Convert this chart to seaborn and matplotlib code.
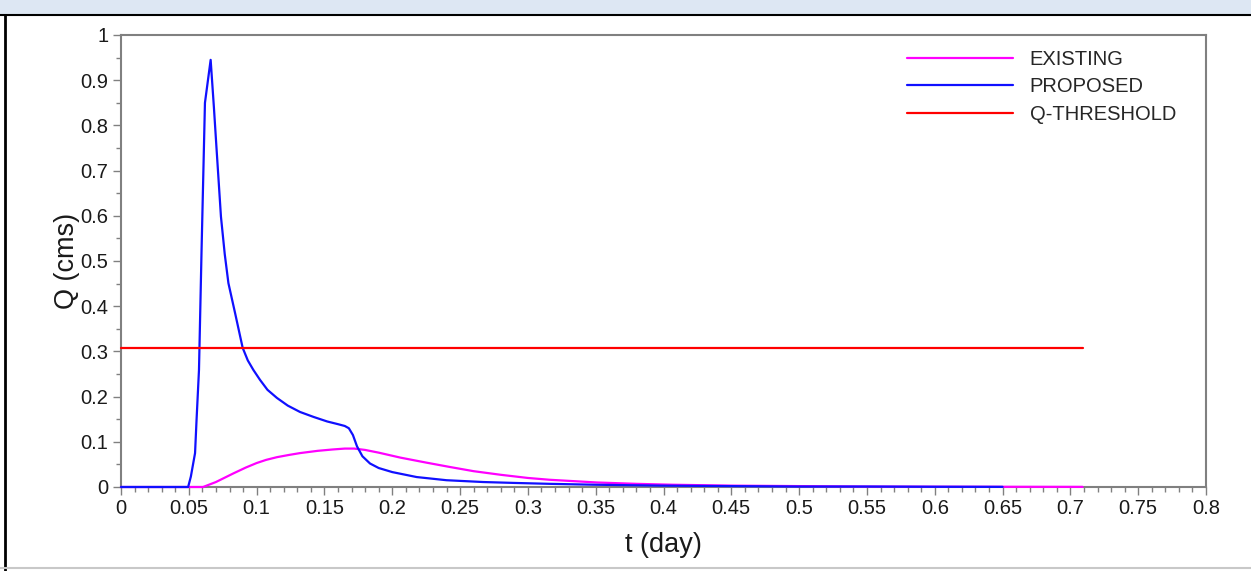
import matplotlib
matplotlib.use("Agg")
import matplotlib.pyplot as plt
import matplotlib.ticker as mticker
from matplotlib.lines import Line2D
from matplotlib.patches import Rectangle
import pandas as pd
import seaborn as sns

# hydrograph values
t_existing = [0, 0.0605, 0.07, 0.0828, 0.092, 0.1, 0.107, 0.115, 0.124, 0.132, 0.145, 0.156, 0.165, 0.172,
              0.18, 0.19, 0.206, 0.225, 0.243, 0.26, 0.28, 0.3, 0.316, 0.351, 0.38, 0.407, 0.45, 0.5,
              0.55, 0.6, 0.65, 0.709]
q_existing = [0, 0, 0.011, 0.030, 0.043, 0.053, 0.060, 0.066, 0.071, 0.075, 0.080, 0.083, 0.085, 0.085,
              0.082, 0.076, 0.065, 0.054, 0.044, 0.035, 0.027, 0.020, 0.016, 0.010, 0.007, 0.005, 0.003, 0.002,
              0.001, 0.0007, 0.0005, 0.0003]

t_proposed = [0, 0.0495, 0.0515, 0.0546, 0.0557, 0.0575, 0.0594, 0.0619, 0.0661, 0.0685, 0.0705, 0.0737,
              0.0765, 0.0792, 0.0841, 0.0897, 0.0935, 0.0976, 0.1025, 0.108, 0.115, 0.123, 0.132, 0.142,
              0.152, 0.16, 0.165, 0.168, 0.171, 0.174, 0.178, 0.1836, 0.19,
              0.20, 0.218, 0.24, 0.267, 0.29, 0.316, 0.35, 0.40, 0.45, 0.50, 0.55, 0.60, 0.65]
q_proposed = [0, 0, 0.023, 0.075, 0.148, 0.259, 0.524, 0.85, 0.945, 0.84, 0.746, 0.598,
              0.515, 0.451, 0.385, 0.308, 0.28, 0.259, 0.237, 0.215, 0.197, 0.18, 0.166, 0.155,
              0.145, 0.139, 0.135, 0.130, 0.115, 0.090, 0.068, 0.052, 0.042,
              0.033, 0.022, 0.015, 0.011, 0.009, 0.007, 0.005, 0.003, 0.002, 0.001, 0.001, 0.0005, 0.0003]

t_threshold = [0, 0.709]
q_threshold = [0.307, 0.307]

x_ticks = [0, 0.05, 0.1, 0.15, 0.2, 0.25, 0.3, 0.35, 0.4, 0.45, 0.5, 0.55, 0.6, 0.65, 0.7, 0.75, 0.8]
y_ticks = [0, 0.1, 0.2, 0.3, 0.4, 0.5, 0.6, 0.7, 0.8, 0.9, 1]

sns.set_style("white")
plt.rcParams['font.family'] = ['Liberation Sans', 'DejaVu Sans']

W, H = 1251, 571
fig = plt.figure(figsize=(W / 100, H / 100), dpi=100)
ax = fig.add_axes([121 / W, 1 - 487 / H, (1206 - 121) / W, (487 - 35) / H])

df_e = pd.DataFrame({"t": t_existing, "Q": q_existing})
df_p = pd.DataFrame({"t": t_proposed, "Q": q_proposed})
df_q = pd.DataFrame({"t": t_threshold, "Q": q_threshold})

sns.lineplot(data=df_e, x="t", y="Q", color="#ff00ff", lw=1.6, label="EXISTING", ax=ax, sort=False)
sns.lineplot(data=df_p, x="t", y="Q", color="#1010ff", lw=1.6, label="PROPOSED", ax=ax, sort=False)
sns.lineplot(data=df_q, x="t", y="Q", color="#ff0000", lw=1.6, label="Q-THRESHOLD", ax=ax, sort=False)
for ln in ax.lines:
    ln.set_clip_on(False)
    ln.set_zorder(4)

ax.set_xlim(0, 0.8)
ax.set_ylim(0, 1)
ax.set_xticks(x_ticks)
ax.set_yticks(y_ticks)
ax.xaxis.set_major_formatter(mticker.FormatStrFormatter('%g'))
ax.yaxis.set_major_formatter(mticker.FormatStrFormatter('%g'))
ax.xaxis.set_minor_locator(mticker.MultipleLocator(0.01))
ax.yaxis.set_minor_locator(mticker.MultipleLocator(0.05))
ax.tick_params(axis='both', which='major', direction='out', length=6, width=1,
               color='#808080', labelsize=14.5, labelcolor='#1a1a1a', pad=3)
ax.tick_params(axis='both', which='minor', direction='out', length=3.5, width=1, color='#808080')
ax.tick_params(bottom=True, left=True, which='both')
for s in ax.spines.values():
    s.set_color('#808080')
    s.set_linewidth(1.5)

ax.set_xlabel("t (day)", fontsize=19.5, color='#1a1a1a', labelpad=10)
ax.set_ylabel("Q (cms)", fontsize=19.5, color='#1a1a1a', labelpad=0.5)

ax.legend(loc='upper left', frameon=False, fontsize=14.5, handlelength=5.25,
          handletextpad=0.85, labelspacing=0.42, borderpad=0, borderaxespad=0,
          bbox_to_anchor=(907 / W, 1 - 50 / H), bbox_transform=fig.transFigure)

# page frame bits around the plot
fig.add_artist(Rectangle((0, 1 - 14 / H), 1, 14 / H, transform=fig.transFigure,
                         facecolor='#dde7f3', edgecolor='none'))
fig.add_artist(Line2D([0, 1], [1 - 15 / H, 1 - 15 / H], transform=fig.transFigure,
                      color='black', lw=1.5))
fig.add_artist(Line2D([5 / W, 5 / W], [0, 1 - 15 / H], transform=fig.transFigure,
                      color='black', lw=2))
fig.add_artist(Line2D([0, 1], [3 / H, 3 / H], transform=fig.transFigure,
                      color='#c8c8c8', lw=1.5))

fig.savefig("out.png", dpi=100)
